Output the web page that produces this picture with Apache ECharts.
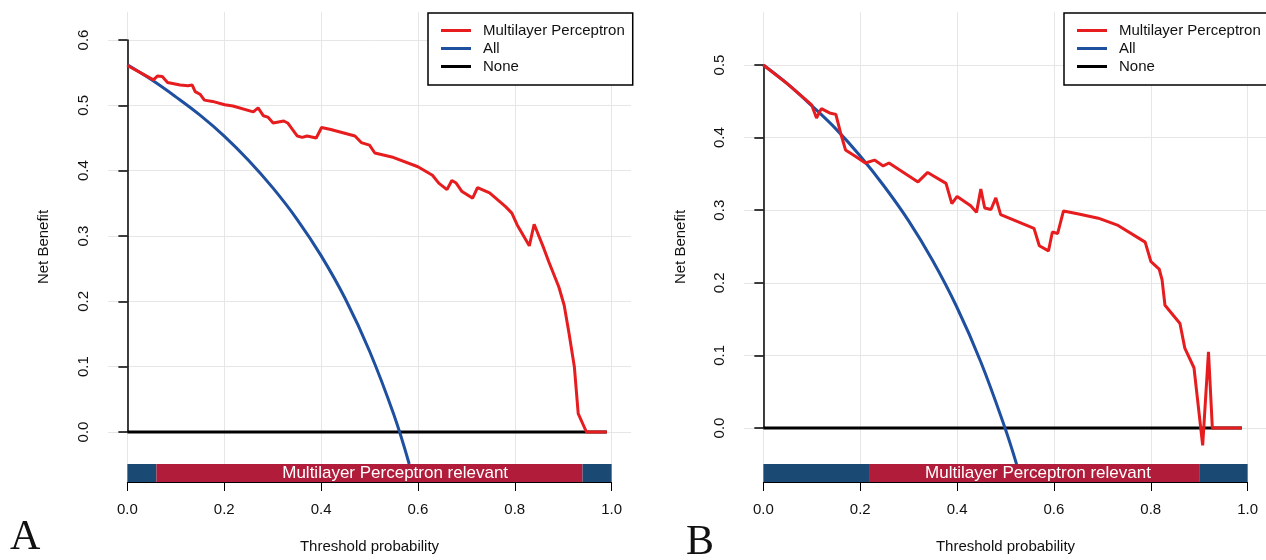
<!DOCTYPE html>
<html>
<head>
<meta charset="utf-8">
<script src="https://cdn.jsdelivr.net/npm/echarts@6/dist/echarts.min.js"></script>
<style>
html, body { margin: 0; background: #fff; }
#chart { width: 1266px; height: 560px; }
</style>
</head>
<body>
<div id="chart"></div>
<script>
// panel A: threshold probabilities and net benefit
const thresholdsA = [0, 0.054, 0.062, 0.072, 0.083, 0.109, 0.125, 0.134, 0.14, 0.15, 0.159, 0.176, 0.201, 0.218,
    0.26, 0.27, 0.281, 0.29, 0.301, 0.323, 0.331, 0.351, 0.361, 0.371, 0.39, 0.401, 0.42, 0.47, 0.483, 0.5,
    0.511, 0.546, 0.6, 0.63, 0.643, 0.66, 0.67, 0.679, 0.691, 0.713, 0.723, 0.748, 0.781, 0.794, 0.805, 0.83,
    0.84, 0.86, 0.87, 0.891, 0.902, 0.912, 0.923, 0.931, 0.948, 0.99];
const mlpA = [0.561, 0.539, 0.545, 0.544, 0.535, 0.531, 0.530, 0.531, 0.521, 0.517, 0.508, 0.506, 0.501, 0.499,
    0.490, 0.496, 0.484, 0.482, 0.473, 0.476, 0.473, 0.453, 0.451, 0.453, 0.450, 0.466, 0.463, 0.453, 0.443, 0.439,
    0.427, 0.421, 0.406, 0.393, 0.381, 0.371, 0.385, 0.381, 0.368, 0.358, 0.374, 0.366, 0.345, 0.335, 0.317, 0.285,
    0.318, 0.281, 0.261, 0.222, 0.194, 0.151, 0.100, 0.028, 0.0, 0.0];
const allXA = [0, 0.05, 0.1, 0.15, 0.2, 0.25, 0.3, 0.35, 0.4, 0.45, 0.5, 0.55, 0.582];
const allA = [0.562, 0.539, 0.513, 0.485, 0.453, 0.416, 0.374, 0.326, 0.270, 0.204, 0.124, 0.027, -0.049];
const bandsA = [[0, 0.06, 0], [0.06, 0.94, 1], [0.94, 1, 0]];

// panel B
const thresholdsB = [0, 0.05, 0.1, 0.11, 0.12, 0.137, 0.15, 0.16, 0.17, 0.191, 0.211, 0.23, 0.248, 0.26, 0.32,
    0.34, 0.378, 0.39, 0.401, 0.429, 0.441, 0.45, 0.458, 0.471, 0.481, 0.491, 0.56, 0.571, 0.59, 0.598, 0.609,
    0.621, 0.65, 0.693, 0.734, 0.79, 0.802, 0.819, 0.825, 0.831, 0.862, 0.872, 0.891, 0.909, 0.921, 0.929, 0.99];
const mlpB = [0.5, 0.474, 0.445, 0.427, 0.44, 0.434, 0.432, 0.406, 0.383, 0.374, 0.365, 0.369, 0.361, 0.365, 0.339,
    0.352, 0.337, 0.309, 0.319, 0.306, 0.297, 0.329, 0.303, 0.301, 0.317, 0.294, 0.275, 0.251, 0.244, 0.27, 0.268,
    0.299, 0.295, 0.289, 0.279, 0.256, 0.229, 0.219, 0.204, 0.169, 0.144, 0.11, 0.083, -0.024, 0.105, 0.0, 0.0];
const allXB = [0, 0.05, 0.1, 0.15, 0.2, 0.25, 0.3, 0.35, 0.4, 0.45, 0.5, 0.524];
const allB = [0.5, 0.474, 0.444, 0.412, 0.375, 0.333, 0.286, 0.231, 0.167, 0.091, 0.0, -0.05];
const bandsB = [[0, 0.22, 0], [0.22, 0.9, 1], [0.9, 1, 0]];

const noneX = [0, 0.99];
const noneY = [0, 0];
const relevantLabelAt = [0.553, 0.567];
const seriesNames = ['Multilayer Perceptron', 'All', 'None'];

const font = 'Liberation Sans';
const red = '#e61c1f';
const blue = '#1f4f9f';
const bandBlue = '#1a4a73';
const bandRed = '#b01c3a';
const gridColor = '#e6e6e6';

const panels = [
    { plotLeft: 108, plotRight: 631, zeroY: 432, topY: 40, yMax: 0.6, thr: thresholdsA, mlp: mlpA,
      allX: allXA, all: allA, bands: bandsA, labelAt: relevantLabelAt[0], legendLeft: 428,
      letter: 'A', letterX: 10, letterY: 538, yTitleX: 44 },
    { plotLeft: 744, plotRight: 1267, zeroY: 428, topY: 65, yMax: 0.5, thr: thresholdsB, mlp: mlpB,
      allX: allXB, all: allB, bands: bandsB, labelAt: relevantLabelAt[1], legendLeft: 1064,
      letter: 'B', letterX: 686, letterY: 543, yTitleX: 681 }
];
const plotTop = 12, plotBottom = 482, bandH = 18;

function pairs(xs, ys) {
    return xs.map((x, i) => [x, ys[i]]);
}
function fmt(v) { return v.toFixed(1); }

const option = {
    animation: false,
    backgroundColor: '#fff',
    grid: [], xAxis: [], yAxis: [], series: [], legend: [], graphic: []
};

panels.forEach((p, i) => {
    const span = p.plotRight - p.plotLeft;
    const gx = p.plotLeft + span * 0.04 / 1.08;
    const gw = span / 1.08;
    // grid for the x axis (0..1) over the full plot height
    option.grid.push({ left: gx, top: plotTop, width: gw, height: plotBottom - plotTop });
    // grid for the y axis (0..max) over the full plot width
    option.grid.push({ left: p.plotLeft, top: p.topY, width: span, height: p.zeroY - p.topY });

    option.xAxis.push({
        gridIndex: 2 * i, type: 'value', min: 0, max: 1, interval: 0.2,
        axisLine: { show: true, lineStyle: { color: '#000', width: 1 } },
        axisTick: { show: true, length: 9, lineStyle: { color: '#000', width: 1 } },
        axisLabel: { margin: 20, fontSize: 15, fontFamily: font, color: '#111', formatter: fmt },
        splitLine: { show: true, lineStyle: { color: gridColor, width: 1 } }
    });
    option.xAxis.push({ gridIndex: 2 * i + 1, type: 'value', min: -0.04, max: 1.04, show: false });
    option.yAxis.push({ gridIndex: 2 * i, type: 'value', min: 0, max: 1, show: false });
    option.yAxis.push({
        gridIndex: 2 * i + 1, type: 'value', min: 0, max: p.yMax, interval: 0.1,
        axisLine: { show: true, lineStyle: { color: '#000', width: 1.5 } },
        axisTick: { show: true, length: 9, lineStyle: { color: '#000', width: 1.5 } },
        axisLabel: { rotate: 90, margin: 17, fontSize: 15, fontFamily: font, color: '#111', formatter: fmt },
        splitLine: { show: true, lineStyle: { color: gridColor, width: 1 } }
    });

    const common = { type: 'line', xAxisIndex: 2 * i + 1, yAxisIndex: 2 * i + 1,
        showSymbol: false, symbol: 'none', clip: false };
    option.series.push(Object.assign({}, common, {
        name: 'None', z: 3, data: pairs(noneX, noneY),
        lineStyle: { color: '#000', width: 3 }, itemStyle: { color: '#000' }
    }));
    option.series.push(Object.assign({}, common, {
        name: 'All', z: 4, data: pairs(p.allX, p.all), smooth: 0.4,
        lineStyle: { color: blue, width: 3 }, itemStyle: { color: blue }
    }));
    option.series.push(Object.assign({}, common, {
        name: 'Multilayer Perceptron', z: 5, data: pairs(p.thr, p.mlp),
        lineStyle: { color: red, width: 3 }, itemStyle: { color: red }
    }));
    option.series.push({
        type: 'custom', xAxisIndex: 2 * i, yAxisIndex: 2 * i, z: 2, data: p.bands,
        renderItem: function (params, api) {
            const cs = params.coordSys;
            const x0 = api.coord([api.value(0), 0])[0];
            const x1 = api.coord([api.value(1), 0])[0];
            const yb = cs.y + cs.height;
            const rel = api.value(2) === 1;
            const children = [{
                type: 'rect', shape: { x: x0, y: yb - bandH, width: x1 - x0, height: bandH },
                style: { fill: rel ? bandRed : bandBlue }
            }];
            if (rel) {
                children.push({
                    type: 'text', x: api.coord([p.labelAt, 0])[0], y: yb - bandH / 2,
                    style: { text: 'Multilayer Perceptron relevant', fill: '#fff', fontSize: 17,
                        fontFamily: font, align: 'center', verticalAlign: 'middle' }
                });
            }
            return { type: 'group', children: children };
        }
    });

    option.legend.push({
        left: p.legendLeft, top: 13, orient: 'vertical', data: seriesNames,
        icon: 'rect', itemWidth: 30, itemHeight: 3, itemGap: 3,
        padding: [10, 8, 11, 13], borderColor: '#000', borderWidth: 1.5, backgroundColor: '#fff',
        textStyle: { fontSize: 15, fontFamily: font, color: '#111', padding: [0, 0, 0, 7] },
        selectedMode: false
    });

    option.graphic.push({
        type: 'text', x: (p.plotLeft + p.plotRight) / 2, y: 547,
        style: { text: 'Threshold probability', fill: '#111', fontSize: 15, fontFamily: font,
            align: 'center', verticalAlign: 'middle' }
    });
    option.graphic.push({
        type: 'text', x: p.yTitleX, y: (plotTop + plotBottom) / 2, rotation: Math.PI / 2,
        style: { text: 'Net Benefit', fill: '#111', fontSize: 15, fontFamily: font,
            align: 'center', verticalAlign: 'middle' }
    });
    option.graphic.push({
        type: 'text', x: p.letterX, y: p.letterY,
        style: { text: p.letter, fill: '#111', fontSize: 42, fontFamily: 'Liberation Serif',
            align: 'left', verticalAlign: 'middle' }
    });
});

const chart = echarts.init(document.getElementById('chart'));
chart.setOption(option);
</script>
</body>
</html>
